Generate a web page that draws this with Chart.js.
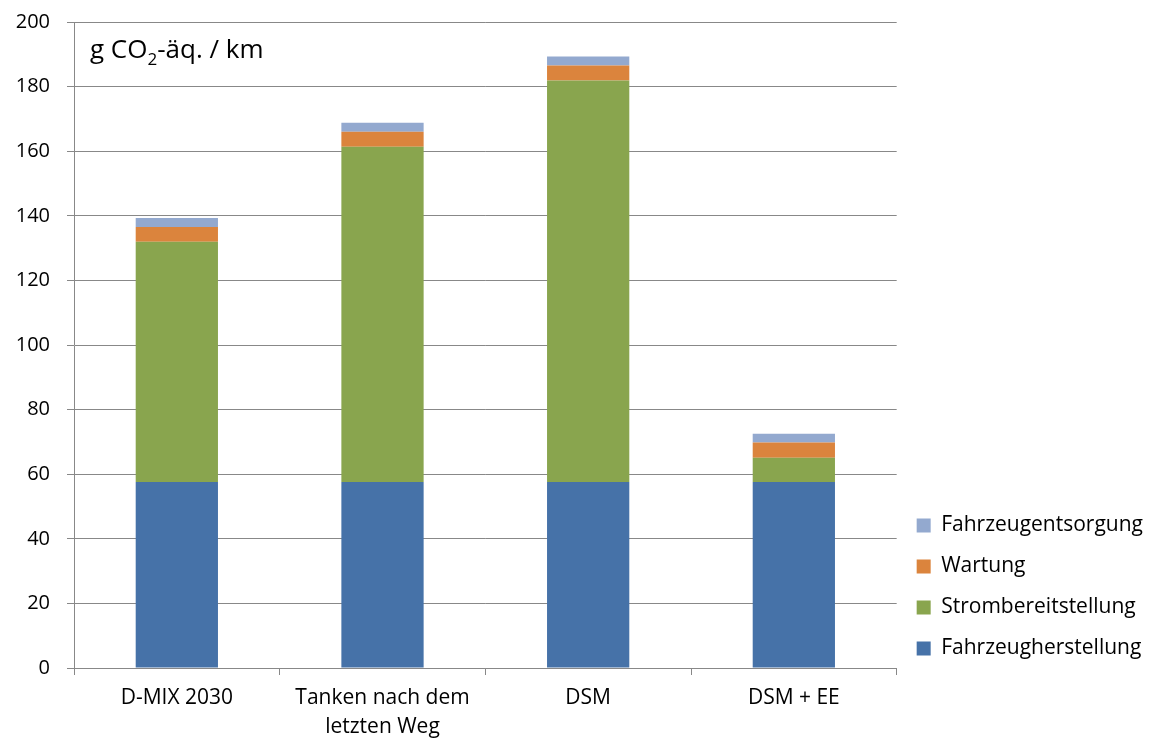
<!DOCTYPE html>
<html lang="de">
<head>
  <meta charset="UTF-8" />
  <title>CO2 je km</title>
  <script src="https://cdn.jsdelivr.net/npm/chart.js"></script>
  <style>
    html, body { margin: 0; padding: 0; background: #fff; }
    #wrap { width: 1159px; height: 742px; position: relative; }
  </style>
</head>
<body>
  <div id="wrap"><canvas id="co2Chart"></canvas></div>

  <script>
    const categories = [['D-MIX 2030'], ['Tanken nach dem', 'letzten Weg'], ['DSM'], ['DSM + EE']];
    const herstellung = [57.6, 57.6, 57.6, 57.6];
    const strom = [74.4, 103.8, 124.3, 7.5];
    const wartung = [4.5, 4.6, 4.6, 4.7];
    const entsorgung = [2.8, 2.8, 2.8, 2.7];
    const yTicks = [0, 20, 40, 60, 80, 100, 120, 140, 160, 180, 200];

    const FONT = "'Open Sans', 'DejaVu Sans', sans-serif";

    // Titel oben links im Diagramm, mit tiefgestellter 2
    const unitLabel = {
      id: 'unitLabel',
      afterDraw(chart) {
        const c = chart.ctx;
        const x = chart.chartArea.left + 16;
        const y = chart.chartArea.top + 36;
        c.save();
        c.fillStyle = '#000';
        c.textBaseline = 'alphabetic';
        c.font = '26px ' + FONT;
        let t = 'g CO';
        c.fillText(t, x, y);
        let w = c.measureText(t).width;
        c.font = '17px ' + FONT;
        c.fillText('2', x + w, y + 7);
        w += c.measureText('2').width;
        c.font = '26px ' + FONT;
        c.fillText('-äq. / km', x + w, y);
        c.restore();
      }
    };

    // Legende etwas nach unten schieben
    const legendShift = {
      id: 'legendShift',
      afterLayout(chart) {
        if (chart.legend) {
          chart.legend.top += 11;
          chart.legend.bottom += 11;
        }
      }
    };

    new Chart(document.getElementById('co2Chart'), {
      type: 'bar',
      data: {
        labels: categories,
        datasets: [
          { label: 'Fahrzeugherstellung', data: herstellung, backgroundColor: '#4672A8' },
          { label: 'Strombereitstellung', data: strom, backgroundColor: '#89A54E' },
          { label: 'Wartung', data: wartung, backgroundColor: '#DB843D' },
          { label: 'Fahrzeugentsorgung', data: entsorgung, backgroundColor: '#93A9CF' }
        ]
      },
      options: {
        responsive: true,
        maintainAspectRatio: false,
        animation: false,
        datasets: { bar: { categoryPercentage: 1.0, barPercentage: 0.4 } },
        layout: { padding: { top: 22, right: 6, bottom: 0, left: 4 } },
        plugins: {
          tooltip: { enabled: false },
          legend: {
            position: 'right',
            align: 'end',
            fullSize: false,
            reverse: true,
            labels: {
              color: '#000',
              font: { family: FONT, size: 21 },
              boxWidth: 14,
              boxHeight: 14,
              padding: 20
            }
          }
        },
        scales: {
          x: {
            stacked: true,
            afterFit(axis) { axis.height = 74; },
            grid: {
              offset: true,
              drawOnChartArea: false,
              drawTicks: true,
              tickLength: 7,
              color: '#888'
            },
            border: { color: '#888', width: 1 },
            ticks: { color: '#000', font: { family: FONT, size: 21, lineHeight: 1.4 }, padding: 8, maxRotation: 0 }
          },
          y: {
            stacked: true,
            min: 0,
            max: 200,
            afterBuildTicks(axis) { axis.ticks = yTicks.map(v => ({ value: v })); },
            afterFit(axis) { axis.width = 70; axis.paddingTop = 0; },
            grid: { color: '#888', tickLength: 7 },
            border: { color: '#888', width: 1 },
            ticks: { color: '#000', font: { family: FONT, size: 20 }, padding: 17 }
          }
        }
      },
      plugins: [unitLabel, legendShift]
    });
  </script>
</body>
</html>
